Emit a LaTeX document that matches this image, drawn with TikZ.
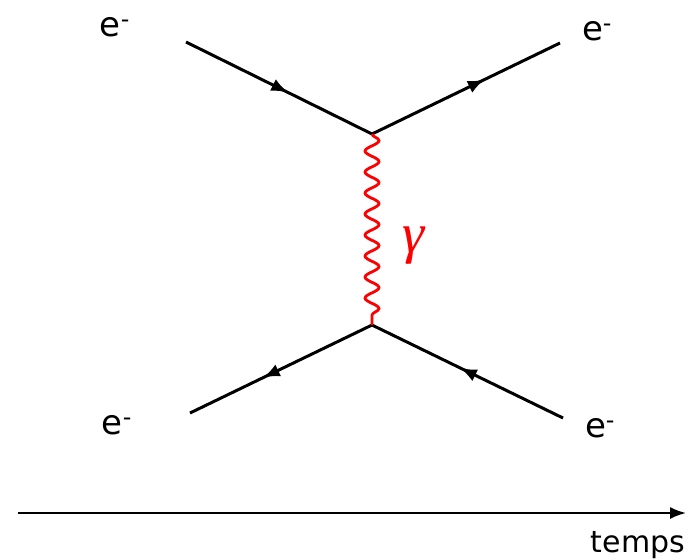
\documentclass[tikz,border=0pt]{standalone}
\usepackage{fontspec}
\setmainfont{DejaVu Sans}
\newfontfamily\gamfont{Liberation Serif}
\usetikzlibrary{arrows.meta,decorations.markings,decorations.pathmorphing}
\begin{document}
\begin{tikzpicture}[x=1pt,y=-1pt,font=\fontsize{34}{40}\selectfont,
  fermion/.style={black,line width=3pt,postaction={decorate},
    decoration={markings,mark=at position #1 with {\arrow{Latex[length=17pt,width=13pt]}}}},
  photon/.style={red,line width=2.8pt,decorate,
    decoration={snake,segment length=21pt,amplitude=7pt}},
  lbl/.style={inner sep=0pt}]
\definecolor{red}{HTML}{FF0000}
\useasboundingbox (0,0) rectangle (693,558);
% vertices and external legs
\coordinate (vtop) at (372,134);
\coordinate (vbot) at (372,325);
\coordinate (intl) at (186,42);
\coordinate (outr) at (560,43);
\coordinate (outl) at (190,413);
\coordinate (intr) at (563,418);
\node[lbl] (etl) at (115,27) {e\textsuperscript{-}};
\node[lbl] (etr) at (597,31) {e\textsuperscript{-}};
\node[lbl] (ebl) at (117,425) {e\textsuperscript{-}};
\node[lbl] (ebr) at (600,428) {e\textsuperscript{-}};
\draw[fermion=0.55] (intl) -- (vtop);
\draw[fermion=0.6] (vtop) -- (outr);
\draw[fermion=0.6] (vbot) -- (outl);
\draw[fermion=0.54] (intr) -- (vbot);
\draw[photon] (vtop) -- (vbot);
\node[lbl,red,font=\gamfont\itshape\fontsize{56}{60}\selectfont] (gam) at (414,246) {γ};
% time axis
\coordinate (t0) at (18,513);
\coordinate (t1) at (686,513);
\draw[line width=1.8pt,-{Latex[length=16pt,width=12pt]}] (t0) -- (t1);
\node[lbl,anchor=base,font=\fontsize{30}{34}\selectfont] (temps) at (638,552) {temps};
\end{tikzpicture}
\end{document}
